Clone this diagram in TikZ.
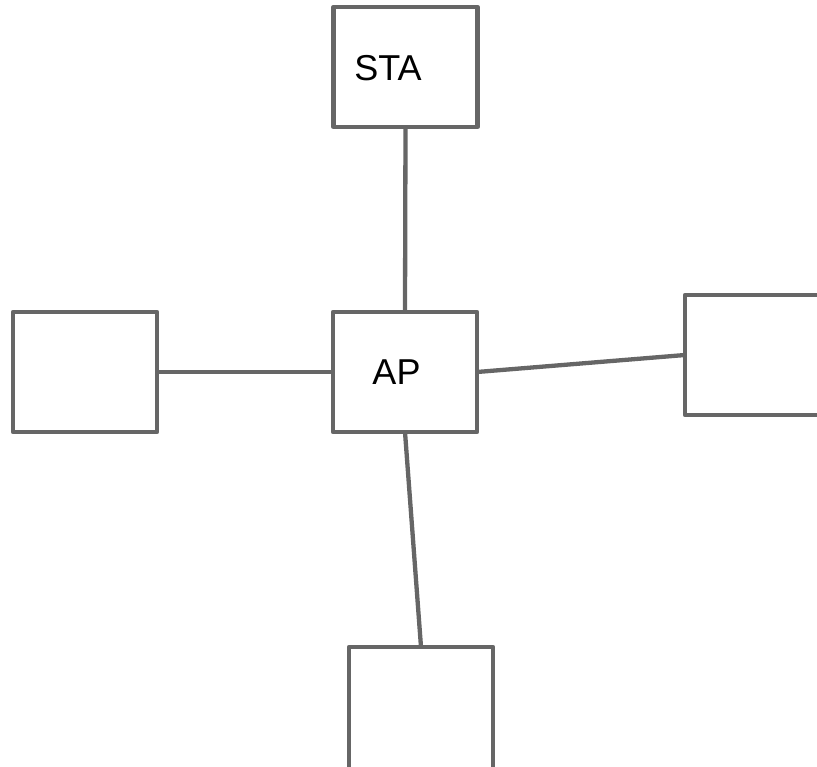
\documentclass[tikz,border=0pt]{standalone}
\usepackage{fontspec}
\setmainfont{Liberation Sans}
\definecolor{edgegray}{HTML}{666666}
\begin{document}
\begin{tikzpicture}[x=1pt,y=-1pt,
  boxnode/.style={draw=edgegray,line width=4.3pt,line join=round,rectangle,inner sep=0pt,outer sep=0pt,minimum width=144pt,minimum height=120pt},
  labelnode/.style={inner sep=0pt,font=\fontsize{36}{43}\selectfont,text=black},
  link/.style={draw=edgegray,line width=4.3pt}]
\useasboundingbox (0,0) rectangle (817,767);
\clip (0,0) rectangle (817,767);
\node[boxnode] (sta) at (405.5,67) {};
\node[boxnode] (ap) at (405,372) {};
\node[boxnode] (left) at (85,372) {};
\node[boxnode] (right) at (757,355) {};
\node[boxnode, minimum height=126pt] (bot) at (421,710) {};
\node[labelnode] (stalabel) at (388,68) {STA};
\node[labelnode] (aplabel) at (396.5,372.5) {AP};
\draw[link] (sta.south) -- (ap.north);
\draw[link] (left.east) -- (ap.west);
\draw[link] (ap.east) -- (right.west);
\draw[link] (ap.south) -- (bot.north);
\end{tikzpicture}
\end{document}
